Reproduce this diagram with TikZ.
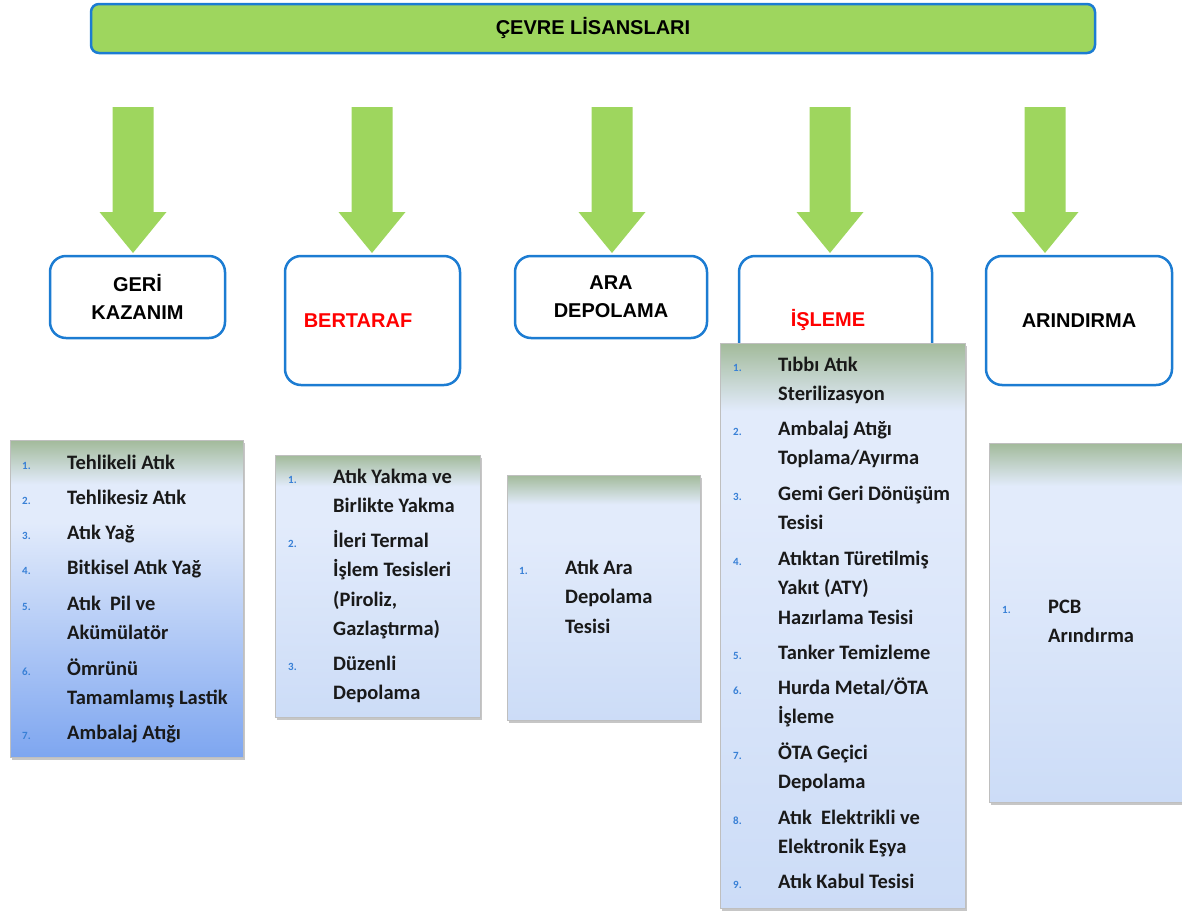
\documentclass[tikz,border=0pt]{standalone}
\usepackage{fontspec}
\setmainfont{Carlito}
\newfontfamily\arialfont{Liberation Sans}
\usepackage{tikz}
\usepackage{xcolor}
\usetikzlibrary{positioning}
\usetikzlibrary{shadows}
\definecolor{leafgreen}{RGB}{158,214,94}
\definecolor{boxblue}{RGB}{28,124,210}
\definecolor{numblue}{RGB}{56,128,214}
\definecolor{listtop}{RGB}{162,186,154}
\definecolor{listmid}{RGB}{226,235,251}
\definecolor{listlow}{RGB}{204,220,247}
\definecolor{listdeep}{RGB}{126,166,240}
\pgfdeclareverticalshading{deeplist}{100bp}{color(0bp)=(listdeep); color(25bp)=(listdeep); color(62bp)=(listmid); color(68bp)=(listmid); color(75bp)=(listtop); color(100bp)=(listtop)}
\pgfdeclareverticalshading{softlist}{100bp}{color(0bp)=(listlow); color(25bp)=(listlow); color(62bp)=(listmid); color(69bp)=(listmid); color(75bp)=(listtop); color(100bp)=(listtop)}

\begin{document}
\begin{tikzpicture}[x=1pt, y=-1pt]
	\tikzstyle{titlebox} = [draw=boxblue, line width=2.5pt, fill=leafgreen, rounded corners=8pt, font=\arialfont\bfseries\fontsize{20}{24}\selectfont]
	\tikzstyle{head} = [draw=boxblue, line width=2.5pt, fill=white, rounded corners=16pt, align=center, font=\arialfont\bfseries\fontsize{20}{28}\selectfont]
	\tikzstyle{headtext} = [align=center, font=\arialfont\bfseries\fontsize{20}{28}\selectfont]
	\tikzstyle{list} = [draw=gray!50, line width=0.8pt, shade, drop shadow={shadow xshift=2pt, shadow yshift=-3pt, opacity=0.45}]
	\tikzstyle{num} = [anchor=base west, inner sep=0, text=numblue, font=\bfseries\fontsize{11}{13}\selectfont]
	\tikzstyle{item} = [anchor=north west, yshift=20.65pt, inner sep=0, align=left, text=black!90, font=\bfseries\fontsize{20.5}{29.5}\selectfont]
	\tikzstyle{blockarrow} = [fill=leafgreen]

	\useasboundingbox (0,0) rectangle (1182,913);

	\node (title) [titlebox, minimum width=1004, minimum height=49] at (593,28.5) {ÇEVRE LİSANSLARI};

	\foreach \x in {133,372,612,830,1045}
		\fill[blockarrow] (\x-20.5,107) -- (\x+20.5,107) -- (\x+20.5,212) -- (\x+33.5,212)
			-- (\x,253) -- (\x-33.5,212) -- (\x-20.5,212) -- cycle;

	\node (h1) [head, minimum width=175, minimum height=82] at (137.5,297) {GERİ\\KAZANIM};
	\node (h2) [head, minimum width=175, minimum height=129] at (372.5,320.5) {};
	\node (h2t) [headtext, text=red] at (358,321) {BERTARAF};
	\node (h3) [head, minimum width=192, minimum height=82] at (611,297) {ARA\\DEPOLAMA};
	\node (h4) [head, minimum width=193, minimum height=129] at (835.5,320.5) {};
	\node (h4t) [headtext, text=red] at (828,320) {İŞLEME};
	\node (h5) [head, minimum width=186, minimum height=129] at (1079,320.5) {ARINDIRMA};

	\node (l1) [list, shading=deeplist, minimum width=233, minimum height=317] at (126.5,598.5) {};
	\node (l2) [list, shading=softlist, minimum width=205, minimum height=262] at (377.5,586) {};
	\node (l3) [list, shading=softlist, minimum width=193, minimum height=245] at (603.5,597.5) {};
	\node (l4) [list, shading=softlist, minimum width=245, minimum height=565] at (842.5,625.5) {};
	\node (l5) [list, shading=softlist, minimum width=193, minimum height=359] at (1085.5,622.5) {};

	\foreach \n/\y/\t in {1/469/{Tehlikeli Atık}, 2/504/{Tehlikesiz Atık}, 3/539/{Atık Yağ},
		4/574/{Bitkisel Atık Yağ}, 5/610/{Atık~~Pil ve\\Akümülatör},
		6/675/{Ömrünü\\Tamamlamış~Lastik}, 7/739/{Ambalaj Atığı}}
	{
		\node (g\n) [num] at (22,\y) {\n.};
		\node (gt\n) [item] at (67,\y) {\strut\t};
	}

	\foreach \n/\y/\t in {1/483/{Atık Yakma ve\\Birlikte Yakma},
		2/547/{İleri Termal\\İşlem Tesisleri\\(Piroliz,\\Gazlaştırma)}, 3/670/{Düzenli\\Depolama}}
	{
		\node (b\n) [num] at (288,\y) {\n.};
		\node (bt\n) [item] at (333,\y) {\strut\t};
	}

	\node (a1) [num] at (519,574) {1.};
	\node (at1) [item] at (565,574) {\strut Atık Ara\\Depolama\\Tesisi};

	\foreach \n/\y/\t in {1/371/{Tıbbı~Atık\\Sterilizasyon}, 2/435/{Ambalaj Atığı\\Toplama/Ayırma},
		3/500/{Gemi Geri Dönüşüm\\Tesisi}, 4/565/{Atıktan Türetilmiş\\Yakıt (ATY)\\Hazırlama Tesisi},
		5/659/{Tanker Temizleme}, 6/694/{Hurda Metal/ÖTA\\İşleme}, 7/759/{ÖTA Geçici\\Depolama},
		8/824/{Atık~~Elektrikli ve\\Elektronik Eşya}, 9/888/{Atık Kabul Tesisi}}
	{
		\node (i\n) [num] at (733,\y) {\n.};
		\node (it\n) [item] at (778,\y) {\strut\t};
	}

	\node (r1) [num] at (1002,613) {1.};
	\node (rt1) [item] at (1048,613) {\strut PCB\\Arındırma};
\end{tikzpicture}
\end{document}
